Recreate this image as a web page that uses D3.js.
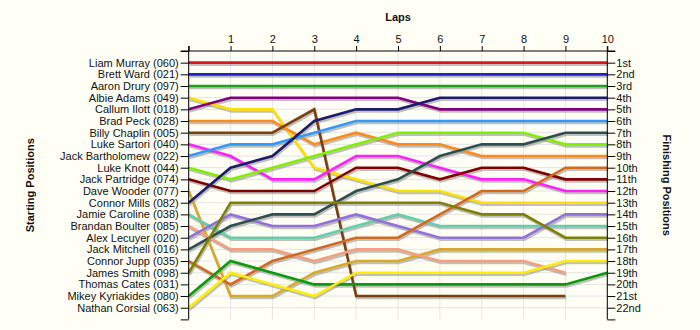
<!DOCTYPE html>
<html>
<head>
<meta charset="utf-8">
<script src="https://cdn.jsdelivr.net/npm/d3@7"></script>
<style>
  body { margin: 0; background: #fffff5; }
  text { font-family: "Liberation Sans", Arial, sans-serif; fill: #111; }
</style>
</head>
<body>
<div id="chart"></div>
<script>
// drivers in starting-grid order
const drivers = [
  "Liam Murray (060)", "Brett Ward (021)", "Aaron Drury (097)", "Albie Adams (049)",
  "Callum Ilott (018)", "Brad Peck (028)", "Billy Chaplin (005)", "Luke Sartori (040)",
  "Jack Bartholomew (022)", "Luke Knott (044)", "Jack Partridge (074)", "Dave Wooder (077)",
  "Connor Mills (082)", "Jamie Caroline (038)", "Brandan Boulter (085)", "Alex Lecuyer (020)",
  "Jack Mitchell (016)", "Connor Jupp (035)", "James Smith (098)", "Thomas Cates (031)",
  "Mikey Kyriakides (080)", "Nathan Corsial (063)"
];

const lapLabels = ["", "1", "2", "3", "4", "5", "6", "7", "8", "9", "10"];

const finishLabels = [
  "1st", "2nd", "3rd", "4th", "5th", "6th", "7th", "8th", "9th", "10th", "11th",
  "12th", "13th", "14th", "15th", "16th", "17th", "18th", "19th", "20th", "21st", "22nd"
];

// position at lap 0..10 for each driver (same order as drivers)
const murray      = [1, 1, 1, 1, 1, 1, 1, 1, 1, 1, 1];
const ward        = [2, 2, 2, 2, 2, 2, 2, 2, 2, 2, 2];
const drury       = [3, 3, 3, 3, 3, 3, 3, 3, 3, 3, 3];
const adams       = [4, 5, 5, 10, 11, 12, 12, 13, 13, 13, 13];
const ilott       = [5, 4, 4, 4, 4, 4, 5, 5, 5, 5, 5];
const peck        = [6, 6, 6, 8, 7, 8, 8, 9, 9, 9, 9];
const chaplin     = [7, 7, 7, 5, 21, 21, 21, 21, 21, 21];
const sartori     = [8, 9, 11, 11, 9, 9, 10, 11, 11, 12, 12];
const bartholomew = [9, 8, 8, 7, 6, 6, 6, 6, 6, 6, 6];
const knott       = [10, 11, 10, 9, 8, 7, 7, 7, 7, 8, 8];
const partridge   = [11, 12, 12, 12, 10, 10, 11, 10, 10, 11, 11];
const wooder      = [12, 21, 21, 19, 18, 18, 17, 17, 17, 17, 17];
const mills       = [13, 10, 9, 6, 5, 5, 4, 4, 4, 4, 4];
const caroline    = [14, 16, 16, 16, 15, 14, 15, 15, 15, 15, 15];
const boulter     = [15, 17, 17, 18, 17, 17, 18, 18, 18, 19];
const lecuyer     = [16, 14, 15, 15, 14, 15, 16, 16, 16, 14, 14];
const mitchell    = [17, 15, 14, 14, 12, 11, 9, 8, 8, 7, 7];
const jupp        = [18, 20, 18, 17, 16, 16, 14, 12, 12, 10, 10];
const smith       = [19, 13, 13, 13, 13, 13, 13, 14, 14, 16, 16];
const cates       = [];
const kyriakides  = [21, 18, 19, 20, 20, 20, 20, 20, 20, 20, 19];
const corsial     = [22, 19, 20, 21, 19, 19, 19, 19, 19, 18, 18];

const lapPositions = [
  murray, ward, drury, adams, ilott, peck, chaplin, sartori, bartholomew, knott, partridge,
  wooder, mills, caroline, boulter, lecuyer, mitchell, jupp, smith, cates, kyriakides, corsial
];

const driverColors = [
  "#e0141c", "#2323c8", "#1f9f1f", "#ffe000", "#800080", "#ff8a1e", "#7a4010", "#ff22ff",
  "#3399ff", "#80f000", "#800000", "#d8a828", "#1c1c6a", "#66cdaa", "#f4a080", "#9370db",
  "#2f4f4f", "#d2691e", "#808000", "#888888", "#0a9a0a", "#ffee00"
];

const width = 700, height = 330;
const svg = d3.select("#chart").append("svg")
  .attr("width", width).attr("height", height)
  .style("background", "#fffff5");

const x = d3.scaleLinear().domain([0, 10]).range([188.7, 607.3]);
const y = d3.scaleLinear().domain([0, 23]).range([51, 319.4]);

const laps = d3.range(0, 11);
const ranks = d3.range(1, 23);

// grid
svg.append("g").selectAll("line").data(laps).join("line")
  .attr("x1", d => x(d)).attr("x2", d => x(d))
  .attr("y1", y(0)).attr("y2", y(23))
  .attr("stroke", "#e4e4e4");
svg.append("g").selectAll("line").data(ranks).join("line")
  .attr("x1", x(0)).attr("x2", x(10))
  .attr("y1", d => y(d)).attr("y2", d => y(d))
  .attr("stroke", "#e4e4e4");

const line = d3.line()
  .x((d, i) => x(i))
  .y(d => y(d));

const series = lapPositions.map((p, i) => ({ pos: p, color: driverColors[i] }))
  .filter(s => s.pos.length > 1);

// shadows
svg.append("g").attr("transform", "translate(1,2)")
  .selectAll("path").data(series).join("path")
  .attr("d", d => line(d.pos))
  .attr("fill", "none")
  .attr("stroke", "#8c8c8c")
  .attr("stroke-opacity", 0.55)
  .attr("stroke-width", 2.6);

svg.append("g")
  .selectAll("path").data(series).join("path")
  .attr("d", d => line(d.pos))
  .attr("fill", "none")
  .attr("stroke", d => d.color)
  .attr("stroke-width", 2.6)
  .attr("stroke-linejoin", "miter");

// axes
const tickAll = d3.range(0, 24);
const leftAxis = d3.axisLeft(y).tickValues(tickAll).tickSize(8).tickSizeOuter(0).tickPadding(2)
  .tickFormat(d => (d >= 1 && d <= 22) ? drivers[d - 1] : "");
const rightAxis = d3.axisRight(y).tickValues(tickAll).tickSize(8).tickSizeOuter(0).tickPadding(1)
  .tickFormat(d => (d >= 1 && d <= 22) ? finishLabels[d - 1] : "");
const topAxis = d3.axisTop(x).tickValues(laps).tickSize(5).tickSizeOuter(0).tickPadding(3)
  .tickFormat(d => lapLabels[d]);

const gl = svg.append("g").attr("transform", `translate(${x(0)},0)`).call(leftAxis);
const gr = svg.append("g").attr("transform", `translate(${x(10)},0)`).call(rightAxis);
const gt = svg.append("g").attr("transform", `translate(0,${y(0)})`).call(topAxis);

[gl, gr, gt].forEach(g => {
  g.selectAll("text").style("font-size", "11px").style("font-family", "Liberation Sans, Arial, sans-serif").attr("fill", "#111");
  g.selectAll("line, path").attr("stroke", "#000");
});
gl.select(".domain").attr("d", `M0,${y(0) - 5}V${y(23)}`);
gr.select(".domain").attr("d", `M0,${y(0) - 5}V${y(23)}`);
gt.select(".domain").attr("d", `M${x(0) - 8},0H${x(10) + 8}`);

// titles
svg.append("text").attr("x", (x(0) + x(10)) / 2).attr("y", 21)
  .attr("text-anchor", "middle").style("font-size", "11px").style("font-weight", "bold")
  .text("Laps");
svg.append("text").attr("transform", `translate(34,${(y(0) + y(23)) / 2}) rotate(-90)`)
  .attr("text-anchor", "middle").style("font-size", "11px").style("font-weight", "bold")
  .text("Starting Positions");
svg.append("text").attr("transform", `translate(663,${(y(0) + y(23)) / 2}) rotate(90)`)
  .attr("text-anchor", "middle").style("font-size", "11px").style("font-weight", "bold")
  .text("Finishing Positions");
</script>
</body>
</html>
